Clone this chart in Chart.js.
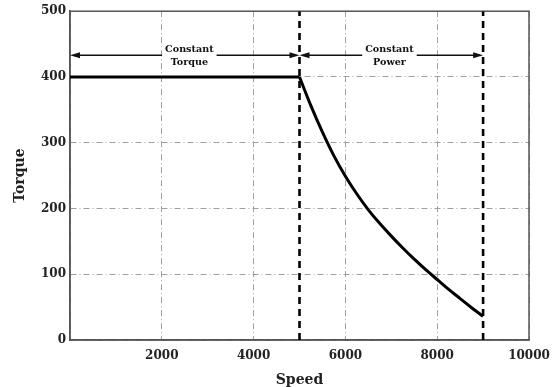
<!DOCTYPE html>
<html>
<head>
<meta charset="utf-8">
<script src="https://cdn.jsdelivr.net/npm/chart.js@4"></script>
<style>
  html, body { margin: 0; padding: 0; background: #fff; }
  #wrap { width: 552px; height: 387px; }
</style>
</head>
<body>
<div id="wrap"><canvas id="torqueChart" width="552" height="387"></canvas></div>
<script>
/* Torque vs speed – constant torque / constant power regions */

// constant torque region
const ctSpeed  = [0, 1000, 2000, 3000, 4000, 5000];
const ctTorque = [400, 400, 400, 400, 400, 400];

// constant power region
const cpSpeed  = [5000, 5250, 5500, 5750, 6000, 6250, 6500, 6750, 7000, 7250, 7500,
                  7750, 8000, 8250, 8500, 8750, 9000];
const cpTorque = [400, 356, 316, 280, 249, 222, 198, 177, 158, 140, 123,
                  107, 92, 77, 63, 49, 36];

// region boundaries (dashed verticals)
const boundSpeeds = [5000, 9000];

// axis ticks
const xTicks = [0, 2000, 4000, 6000, 8000, 10000];
const yTicks = [0, 100, 200, 300, 400, 500];

// region annotations
const regions = [
  { from: 0,    to: 5000, mid: 2600, level: 433, lines: ['Constant', 'Torque'] },
  { from: 5000, to: 9000, mid: 6960, level: 433, lines: ['Constant', 'Power'] }
];

const SERIF = '"DejaVu Serif", "Liberation Serif", serif';
const pts = (xs, ys) => xs.map((x, i) => ({ x, y: ys[i] }));

const frame = {
  id: 'frame',
  beforeDatasetsDraw(chart) {
    const { ctx, chartArea: a } = chart;
    ctx.save();
    ctx.strokeStyle = '#555';
    ctx.lineWidth = 1.5;
    ctx.strokeRect(a.left, a.top, a.right - a.left, a.bottom - a.top);
    ctx.restore();
  }
};

function arrowHead(ctx, x, y, dir) {
  ctx.beginPath();
  ctx.moveTo(x, y);
  ctx.lineTo(x - dir * 10, y - 3);
  ctx.lineTo(x - dir * 10, y + 3);
  ctx.closePath();
  ctx.fill();
}

const regionLabels = {
  id: 'regionLabels',
  afterDatasetsDraw(chart) {
    const { ctx, scales: { x, y } } = chart;
    ctx.save();
    ctx.font = 'bold 9.6px ' + SERIF;
    ctx.fillStyle = '#111';
    ctx.strokeStyle = '#111';
    ctx.lineWidth = 1.4;
    regions.forEach(r => {
      const x0 = x.getPixelForValue(r.from);
      const x1 = x.getPixelForValue(r.to);
      const xm = x.getPixelForValue(r.mid);
      const yy = y.getPixelForValue(r.level);
      const half = Math.max(...r.lines.map(l => ctx.measureText(l).width)) / 2;
      ctx.beginPath();
      ctx.moveTo(x0 + 4, yy); ctx.lineTo(xm - half - 3, yy);
      ctx.moveTo(xm + half + 3, yy); ctx.lineTo(x1 - 4, yy);
      ctx.stroke();
      arrowHead(ctx, x0, yy, -1);
      arrowHead(ctx, x1, yy, 1);
      ctx.textAlign = 'center';
      ctx.textBaseline = 'middle';
      ctx.fillText(r.lines[0], xm, yy - 6);
      ctx.fillText(r.lines[1], xm, yy + 7.5);
    });
    ctx.restore();
  }
};

const gridStyle = { color: '#a0a0a0', lineWidth: 1, drawTicks: false };
const borderStyle = { color: '#555', width: 1.5, dash: [6, 3, 1, 3] };
const tickFont = { family: SERIF, size: 12, weight: 'bold' };

new Chart(document.getElementById('torqueChart'), {
  type: 'line',
  data: {
    datasets: [
      {
        data: pts(ctSpeed, ctTorque),
        borderColor: '#000', borderWidth: 3, pointRadius: 0, fill: false
      },
      {
        data: pts(cpSpeed, cpTorque),
        borderColor: '#000', borderWidth: 3, pointRadius: 0, fill: false,
        cubicInterpolationMode: 'monotone'
      },
      ...boundSpeeds.map(s => ({
        data: [{ x: s, y: yTicks[0] }, { x: s, y: yTicks[yTicks.length - 1] }],
        borderColor: '#000', borderWidth: 2.6, borderDash: [7, 5],
        pointRadius: 0, fill: false
      }))
    ]
  },
  options: {
    responsive: false,
    animation: false,
    layout: { padding: { top: 11, right: 0, left: 0, bottom: 0 } },
    plugins: { legend: { display: false }, tooltip: { enabled: false } },
    scales: {
      x: {
        type: 'linear',
        min: xTicks[0], max: xTicks[xTicks.length - 1],
        afterBuildTicks: s => { s.ticks = xTicks.map(v => ({ value: v })); },
        afterFit: s => { s.height = 47; s.paddingRight = 23; s.paddingLeft = 0; },
        grid: gridStyle,
        border: borderStyle,
        ticks: {
          font: tickFont, color: '#222', padding: 9, maxRotation: 0,
          callback: v => (v === 0 ? '' : v)
        },
        title: {
          display: true, text: 'Speed', color: '#222',
          font: { family: SERIF, size: 14, weight: 'bold', lineHeight: 1 },
          padding: { top: 0, bottom: 0 }
        }
      },
      y: {
        type: 'linear',
        min: yTicks[0], max: yTicks[yTicks.length - 1],
        afterBuildTicks: s => { s.ticks = yTicks.map(v => ({ value: v })); },
        afterFit: s => { s.width = 70; },
        grid: gridStyle,
        border: borderStyle,
        ticks: { font: tickFont, color: '#222', padding: 4 },
        title: {
          display: true, text: 'Torque', color: '#222',
          font: { family: SERIF, size: 14, weight: 'bold' },
          padding: { top: 12, bottom: 0 }
        }
      }
    }
  },
  plugins: [frame, regionLabels]
});
</script>
</body>
</html>
